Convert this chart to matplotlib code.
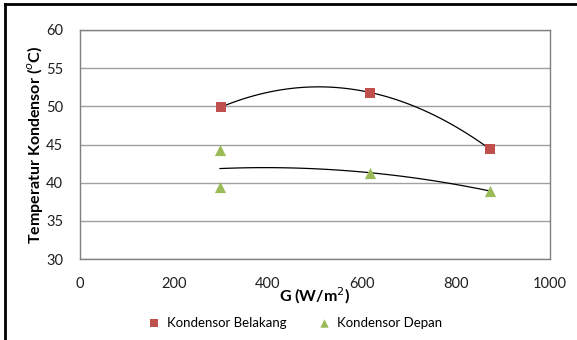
import numpy as np
import matplotlib.pyplot as plt
from matplotlib.lines import Line2D

plt.rcParams['font.family'] = ['Lato', 'DejaVu Sans']

# data
g_belakang = [300, 618, 872]
t_belakang = [49.9, 51.8, 44.4]
g_depan = [298, 298, 618, 873]
t_depan = [44.3, 39.4, 41.3, 38.9]

fig = plt.figure(figsize=(5.77, 3.4), dpi=100)
ax = fig.add_axes([0.1386, 0.238, 0.8147, 0.674])

# polynomial (order 2) trendlines
for gx, ty in [(g_belakang, t_belakang), (g_depan, t_depan)]:
    coef = np.polyfit(gx, ty, 2)
    xs = np.linspace(min(gx), max(gx), 100)
    ax.plot(xs, np.polyval(coef, xs), color='black', lw=0.9, zorder=2)

ax.scatter(g_belakang, t_belakang, marker='s', s=55, color='#C0504D',
           label='Kondensor Belakang', zorder=3, linewidths=0)
ax.scatter(g_depan, t_depan, marker='^', s=65, color='#9BBB59',
           label='Kondensor Depan', zorder=3, linewidths=0)

ax.set_xlim(0, 1000)
ax.set_ylim(30, 60)
ax.set_xticks(range(0, 1001, 200))
ax.set_yticks(range(30, 61, 5))
ax.grid(axis='y', color='#A0A0A0', lw=1)
ax.set_axisbelow(True)
for s in ax.spines.values():
    s.set_color('#808080')
    s.set_linewidth(1)
ax.tick_params(length=0, labelsize=10.5, colors='#202020')
ax.tick_params(axis='x', pad=13)
ax.tick_params(axis='y', pad=12)

ax.set_xlabel('G (W/m$^2$)', fontsize=11.5, fontweight='bold', labelpad=-4)
ax.set_ylabel('Temperatur Kondensor ($^o$C)', fontsize=11.5, fontweight='bold',
              labelpad=1)

ax.legend(loc='upper center', bbox_to_anchor=(0.45, -0.2), ncol=2,
          frameon=False, fontsize=9.5, handletextpad=0.0, columnspacing=1.8,
          markerscale=0.75)

# outer frame (left and top edges)
fig.add_artist(Line2D([0.0095, 0.0095], [0.0, 0.987], color='black', lw=2,
                      transform=fig.transFigure))
fig.add_artist(Line2D([0.0095, 1.0], [0.987, 0.987], color='black', lw=2,
                      transform=fig.transFigure))

fig.savefig('out.png', dpi=100)
